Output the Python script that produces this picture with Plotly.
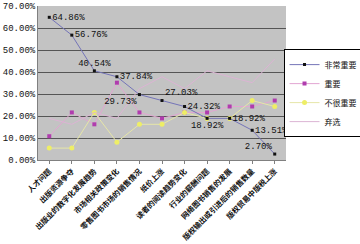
import plotly.graph_objects as go

categories = ["人才问题", "出版资源争夺", "出版业的数字化发展趋势", "市场相关政策变化",
              "零售图书市场的销售情况", "纸价上涨", "读者的阅读趋势变化", "行业的薪酬问题",
              "网络图书销售的发展", "版权输出或引进后的销售数量", "版权贸易中版税上涨"]
very_important = [64.86, 56.76, 40.54, 37.84, 29.73, 27.03, 24.32, 18.92, 18.92, 13.51, 2.70]
important = [10.81, 21.62, 16.22, 35.14, 21.62, 18.92, 21.62, 21.62, 24.32, 24.32, 27.03]
not_very = [5.41, 5.41, 21.62, 8.11, 16.22, 16.22, 21.62, 18.92, 18.92, 27.03, 24.32]
abstain = [18.92, 16.22, 21.62, 18.92, 32.43, 37.84, 32.43, 40.54, 37.84, 35.14, 45.95]
y_ticks = [0, 0.1, 0.2, 0.3, 0.4, 0.5, 0.6, 0.7]
label_pos = ["middle right", "middle right", "top center", "middle right", "bottom left",
             "top right", "middle right", "bottom center", "middle right", "middle right", "top left"]

def frac(v):
    return [x / 100 for x in v]

num_font = "Liberation Mono, Noto Sans CJK SC"
cjk_font = "Noto Sans CJK SC"

fig = go.Figure()
fig.add_trace(go.Scatter(
    x=categories, y=frac(important), name="重要", mode="lines+markers",
    line=dict(color="#e2a6d2", width=1), marker=dict(color="#b03cae", size=4, symbol="square"),
    cliponaxis=False, legendrank=2))
fig.add_trace(go.Scatter(
    x=categories, y=frac(not_very), name="不很重要", mode="lines+markers",
    line=dict(color="#e6e6a8", width=1), marker=dict(color="#eeee66", size=5, symbol="circle"),
    cliponaxis=False, legendrank=3))
fig.add_trace(go.Scatter(
    x=categories, y=frac(abstain), name="弃选", mode="lines",
    line=dict(color="#dcb4d4", width=1), cliponaxis=False, legendrank=4))
fig.add_trace(go.Scatter(
    x=categories, y=frac(very_important), name="非常重要", mode="lines+markers+text",
    line=dict(color="#7474b8", width=1), marker=dict(color="#111111", size=3, symbol="square"),
    text=[f"{v:.2f}%" for v in very_important], textposition=label_pos,
    textfont=dict(family=num_font, size=9, color="#111111"), cliponaxis=False, legendrank=1))

fig.update_layout(
    width=360, height=244,
    margin=dict(l=38, r=74, t=6, b=84, autoexpand=False),
    paper_bgcolor="white", plot_bgcolor="#c3c3c3",
    showlegend=True,
    legend=dict(x=0.99, y=0.72, xanchor="left", yanchor="top",
                bgcolor="white", bordercolor="#000000", borderwidth=1,
                font=dict(family=cjk_font, size=8, color="#111111"),
                traceorder="normal", itemwidth=30, tracegroupgap=0),
    font=dict(family=cjk_font, size=9, color="#111111"),
)
fig.update_xaxes(
    type="category", tickangle=-45, showgrid=False, automargin=False,
    tickfont=dict(family=cjk_font, size=7.5, color="#111111", weight="bold"),
    showline=True, linecolor="#808080", ticks="outside", ticklen=3, tickcolor="#808080",
    range=[-0.5, len(categories) - 0.5])
fig.update_yaxes(
    range=[0, 0.7], tickvals=y_ticks, tickformat=".2%", automargin=False,
    tickfont=dict(family=num_font, size=9, color="#111111"),
    showgrid=True, gridcolor="#555555", gridwidth=1,
    showline=True, linecolor="#808080", zeroline=False)

fig.write_html("out.html")
